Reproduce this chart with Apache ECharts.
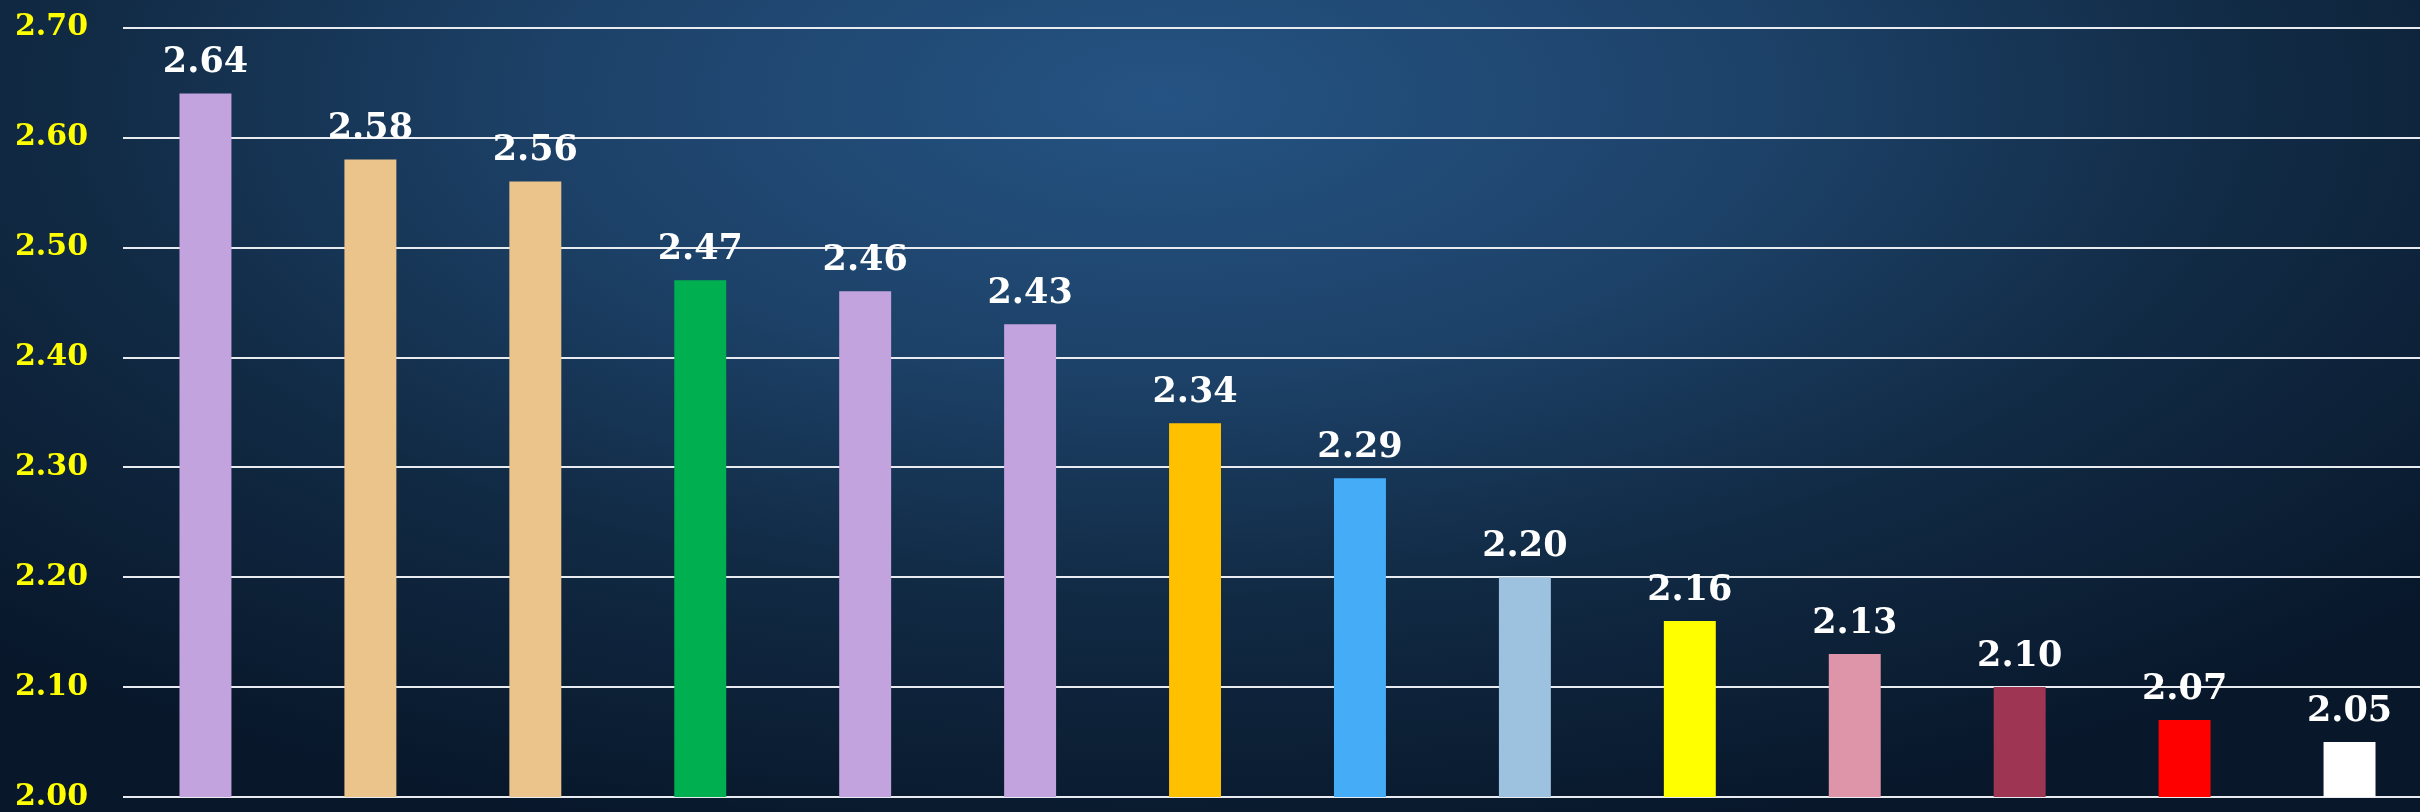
<!DOCTYPE html>
<html>
<head>
<meta charset="utf-8">
<script src="https://cdn.jsdelivr.net/npm/echarts@6/dist/echarts.min.js"></script>
<style>
html,body{margin:0;padding:0;width:2420px;height:812px;overflow:hidden;}
body{background:radial-gradient(ellipse 70% 95% at 48% 12%, #255383 0%, #1d4269 35%, #112a44 65%, #08172a 100%);}
#c{width:2432px;height:812px;}
</style>
</head>
<body>
<div id="c"></div>
<script>
var categories = ['A','B','C','D','E','F','G','H','I','J','K','L','M','N'];
var values = [2.64, 2.58, 2.56, 2.47, 2.46, 2.43, 2.34, 2.29, 2.20, 2.16, 2.13, 2.10, 2.07, 2.05];
var barColors = ['#C3A3DE','#EBC48C','#EBC48C','#00B050','#C3A3DE','#C3A3DE','#FFC000','#45ACF8','#9DC2E0','#FFFF00','#DF95A9','#9E3653','#FF0000','#FFFFFF'];
var yMin = 2.0, yMax = 2.7, yStep = 0.1;

var chart = echarts.init(document.getElementById('c'), null, {renderer:'canvas'});
chart.setOption({
  backgroundColor: 'transparent',
  animation: false,
  grid: {left: 123, right: 0, top: 27.5, bottom: 13, containLabel: false},
  xAxis: {
    type: 'category',
    data: categories,
    axisLine: {show: false},
    axisTick: {show: false},
    axisLabel: {show: false},
    splitLine: {show: false}
  },
  yAxis: {
    type: 'value',
    min: yMin, max: yMax, interval: yStep,
    axisLine: {show: false},
    axisTick: {show: false},
    axisLabel: {
      color: '#FFFF00',
      fontFamily: 'DejaVu Serif',
      fontWeight: 'bold',
      fontSize: 30,
      margin: 35,
      formatter: function(v){ return v.toFixed(2); }
    },
    splitLine: {show: true, lineStyle: {color: '#E8ECF0', width: 2}}
  },
  series: [{
    type: 'bar',
    data: values.map(function(v, i){ return {value: v, itemStyle: {color: barColors[i]}}; }),
    barWidth: '31.5%',
    label: {
      show: true,
      position: 'top',
      distance: 13,
      color: '#FFFFFF',
      fontFamily: 'DejaVu Serif',
      fontWeight: 'bold',
      fontSize: 35,
      formatter: function(p){ return p.value.toFixed(2); }
    }
  }]
});
</script>
</body>
</html>
